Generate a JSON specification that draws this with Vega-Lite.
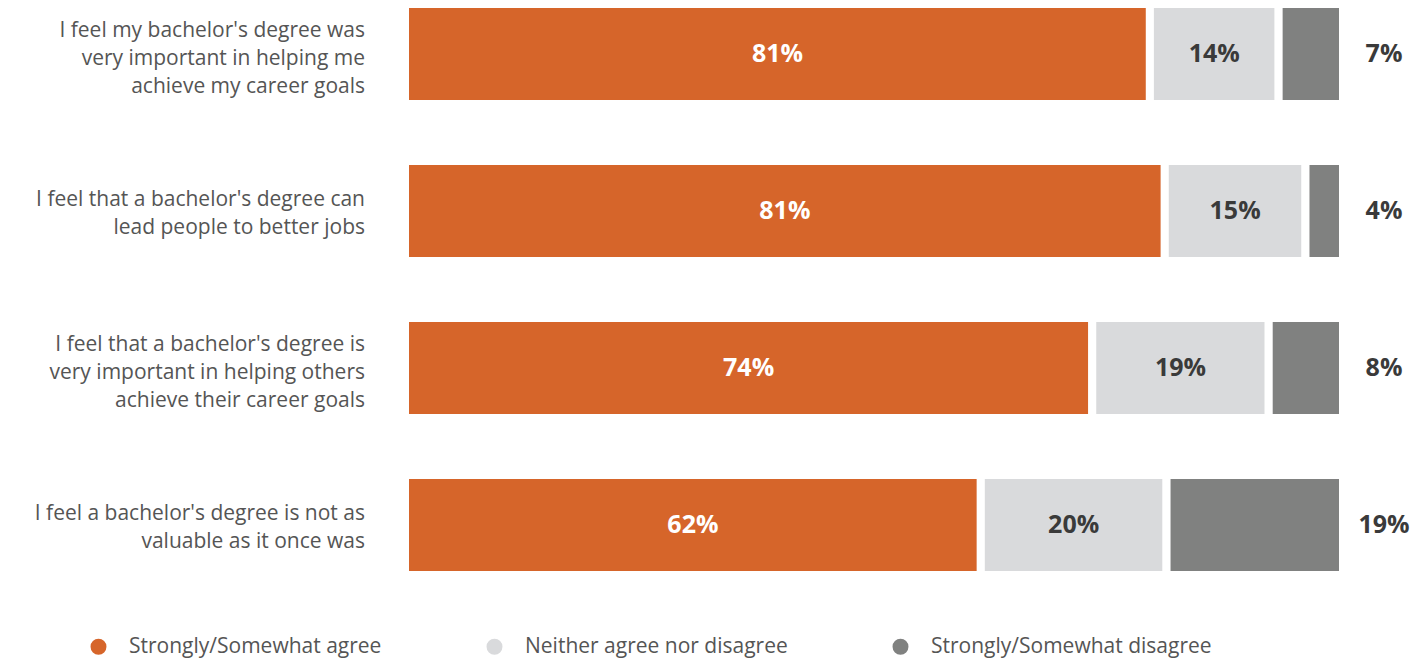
{
  "$schema": "https://vega.github.io/schema/vega-lite/v6.json",
  "width": 938,
  "height": 571,
  "autosize": {"type": "none"},
  "padding": {"left": 405, "top": 4, "right": 77, "bottom": 84},
  "background": "white",
  "config": {"view": {"stroke": null}, "font": "Open Sans"},
  "data": {
    "values": [
      {"question": "I feel my bachelor's degree was|very important in helping me|achieve my career goals", "response": "Strongly/Somewhat agree", "order": 1, "value": 81},
      {"question": "I feel my bachelor's degree was|very important in helping me|achieve my career goals", "response": "Neither agree nor disagree", "order": 2, "value": 14},
      {"question": "I feel my bachelor's degree was|very important in helping me|achieve my career goals", "response": "Strongly/Somewhat disagree", "order": 3, "value": 7},
      {"question": "I feel that a bachelor's degree can|lead people to better jobs", "response": "Strongly/Somewhat agree", "order": 1, "value": 81},
      {"question": "I feel that a bachelor's degree can|lead people to better jobs", "response": "Neither agree nor disagree", "order": 2, "value": 15},
      {"question": "I feel that a bachelor's degree can|lead people to better jobs", "response": "Strongly/Somewhat disagree", "order": 3, "value": 4},
      {"question": "I feel that a bachelor's degree is|very important in helping others|achieve their career goals", "response": "Strongly/Somewhat agree", "order": 1, "value": 74},
      {"question": "I feel that a bachelor's degree is|very important in helping others|achieve their career goals", "response": "Neither agree nor disagree", "order": 2, "value": 19},
      {"question": "I feel that a bachelor's degree is|very important in helping others|achieve their career goals", "response": "Strongly/Somewhat disagree", "order": 3, "value": 8},
      {"question": "I feel a bachelor's degree is not as|valuable as it once was", "response": "Strongly/Somewhat agree", "order": 1, "value": 62},
      {"question": "I feel a bachelor's degree is not as|valuable as it once was", "response": "Neither agree nor disagree", "order": 2, "value": 20},
      {"question": "I feel a bachelor's degree is not as|valuable as it once was", "response": "Strongly/Somewhat disagree", "order": 3, "value": 19}
    ]
  },
  "transform": [
    {"stack": "value", "groupby": ["question"], "sort": [{"field": "order", "order": "ascending"}], "offset": "normalize", "as": ["v0", "v1"]},
    {"calculate": "(datum.v0 + datum.v1) / 2", "as": "mid"},
    {"calculate": "datum.value + '%'", "as": "pct"},
    {"calculate": "length(split(datum.question, '|'))", "as": "nlines"}
  ],
  "encoding": {
    "y": {
      "field": "question",
      "type": "nominal",
      "sort": [
        "I feel my bachelor's degree was|very important in helping me|achieve my career goals",
        "I feel that a bachelor's degree can|lead people to better jobs",
        "I feel that a bachelor's degree is|very important in helping others|achieve their career goals",
        "I feel a bachelor's degree is not as|valuable as it once was"
      ],
      "scale": {"paddingInner": 0.363, "paddingOuter": 0},
      "axis": null
    }
  },
  "layer": [
    {
      "mark": {"type": "bar", "stroke": "white", "strokeWidth": 8},
      "encoding": {
        "x": {"field": "v0", "type": "quantitative", "scale": {"domain": [0, 1], "nice": false}, "axis": null},
        "x2": {"field": "v1"},
        "color": {
          "field": "response",
          "type": "nominal",
          "scale": {
            "domain": ["Strongly/Somewhat agree", "Neither agree nor disagree", "Strongly/Somewhat disagree"],
            "range": ["#D6652A", "#D9DADC", "#808180"]
          },
          "legend": {
            "orient": "none",
            "legendX": -317,
            "legendY": 632,
            "direction": "horizontal",
            "title": null,
            "symbolType": "circle",
            "symbolSize": 254,
            "symbolStrokeWidth": 0,
            "symbolOpacity": 1,
            "labelFontSize": 21,
            "labelFont": "Open Sans",
            "labelColor": "#555555",
            "labelOffset": 20,
            "columnPadding": 102,
            "labelLimit": 0
          }
        }
      }
    },
    {
      "transform": [{"filter": "datum.order == 1 && datum.nlines == 3"}],
      "mark": {"type": "text", "fontSize": 21, "color": "#555555", "align": "right", "baseline": "middle", "lineBreak": "|", "lineHeight": 28, "dx": -40, "dy": -23},
      "encoding": {
        "x": {"datum": 0, "type": "quantitative"},
        "text": {"field": "question"}
      }
    },
    {
      "transform": [{"filter": "datum.order == 1 && datum.nlines == 2"}],
      "mark": {"type": "text", "fontSize": 21, "color": "#555555", "align": "right", "baseline": "middle", "lineBreak": "|", "lineHeight": 28, "dx": -40, "dy": -11},
      "encoding": {
        "x": {"datum": 0, "type": "quantitative"},
        "text": {"field": "question"}
      }
    },
    {
      "transform": [{"filter": "datum.order == 1"}],
      "mark": {"type": "text", "fontSize": 25, "fontWeight": "bold", "color": "white", "align": "center", "baseline": "middle"},
      "encoding": {
        "x": {"field": "mid", "type": "quantitative"},
        "text": {"field": "pct"}
      }
    },
    {
      "transform": [{"filter": "datum.order == 2"}],
      "mark": {"type": "text", "fontSize": 25, "fontWeight": "bold", "color": "#3a3a3a", "align": "center", "baseline": "middle"},
      "encoding": {
        "x": {"field": "mid", "type": "quantitative"},
        "text": {"field": "pct"}
      }
    },
    {
      "transform": [{"filter": "datum.order == 3"}],
      "mark": {"type": "text", "fontSize": 25, "fontWeight": "bold", "color": "#3a3a3a", "align": "center", "baseline": "middle", "dx": 41},
      "encoding": {
        "x": {"field": "v1", "type": "quantitative"},
        "text": {"field": "pct"}
      }
    }
  ]
}
